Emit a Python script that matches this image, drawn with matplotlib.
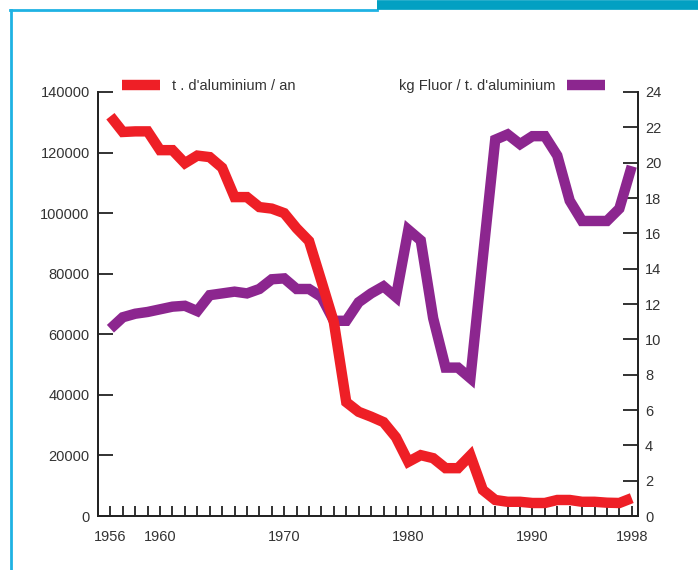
import matplotlib
matplotlib.use("Agg")
import matplotlib.pyplot as plt
from matplotlib.lines import Line2D

plt.rcParams['font.family'] = ['Liberation Sans', 'DejaVu Sans']

years = list(range(1956, 1999))

# t. d'aluminium / an  (left axis)
aluminium = [132000, 126800, 127000, 127000, 120800, 120800, 116500, 119000,
             118500, 115000, 105300, 105300, 102000, 101500, 100000, 95000,
             90800, 77500, 64000, 37600, 34400, 32800, 31000, 26000,
             17900, 20100, 19100, 15800, 15800, 20000, 8600, 5300,
             4700, 4700, 4300, 4300, 5300, 5300, 4700, 4700,
             4400, 4300, 5900]

# kg Fluor / t. d'aluminium  (right axis)
fluor = [10.6, 11.25, 11.45, 11.55, 11.7, 11.85, 11.9, 11.6,
         12.5, 12.6, 12.7, 12.6, 12.85, 13.4, 13.45, 12.85,
         12.85, 12.4, 11.05, 11.05, 12.1, 12.6, 13.0, 12.4,
         16.2, 15.6, 11.2, 8.4, 8.4, 7.8, 14.6, 21.3,
         21.6, 21.05, 21.5, 21.5, 20.4, 17.85, 16.7, 16.7,
         16.7, 17.4, 19.8]

year_labels = [1956, 1960, 1970, 1980, 1990, 1998]
left_ticks = list(range(0, 140001, 20000))
right_ticks = list(range(0, 25, 2))

red = '#ee1f26'
purple = '#8c268f'
text_col = '#333333'
axis_col = '#222222'
fs = 10.5

fig = plt.figure(figsize=(6.98, 5.70), dpi=100)
ax = fig.add_axes([0.1404, 0.0947, 0.7736, 0.7439])
ax2 = ax.twinx()

ax.set_zorder(ax2.get_zorder() + 1)
ax.patch.set_visible(False)

ax.plot(years, aluminium, color=red, lw=7.5, solid_joinstyle='miter',
        solid_capstyle='butt')
ax2.plot(years, fluor, color=purple, lw=7.5, solid_joinstyle='miter',
         solid_capstyle='butt')

ax.set_xlim(1955, 1998.5)
ax.set_ylim(0, 140000)
ax2.set_ylim(0, 24)

ax.set_xticks(years)
ax.set_xticklabels([str(y) if y in year_labels else '' for y in years])
ax.set_yticks(left_ticks)
ax.set_yticklabels([str(v) for v in left_ticks])
ax2.set_yticks(right_ticks)
ax2.set_yticklabels([str(v) for v in right_ticks])

for a in (ax, ax2):
    a.spines['top'].set_visible(False)
    for s in ('left', 'right', 'bottom'):
        a.spines[s].set_color(axis_col)
        a.spines[s].set_linewidth(1.3)

ax.tick_params(axis='x', direction='in', length=7, width=1.3, color=axis_col,
               pad=10, labelsize=fs, labelcolor=text_col)
ax.tick_params(axis='y', direction='in', length=11, width=1.3, color=axis_col,
               pad=6, labelsize=fs, labelcolor=text_col)
ax2.tick_params(axis='y', direction='in', length=11, width=1.3, color=axis_col,
                pad=5, labelsize=fs, labelcolor=text_col)

# legends
h1 = Line2D([], [], color=red, lw=7.5, solid_capstyle='butt')
h2 = Line2D([], [], color=purple, lw=7.5, solid_capstyle='butt')
leg1 = ax.legend([h1], ["t . d'aluminium / an"], loc='center left',
                 bbox_to_anchor=(122 / 698, 1 - 86 / 570),
                 bbox_transform=fig.transFigure, frameon=False,
                 borderpad=0, borderaxespad=0, handlelength=2.6,
                 handletextpad=0.8, fontsize=fs, labelcolor=text_col)
leg2 = ax.legend([h2], ["kg Fluor / t. d'aluminium"], loc='center right',
                 bbox_to_anchor=(605 / 698, 1 - 86 / 570),
                 bbox_transform=fig.transFigure, frameon=False,
                 borderpad=0, borderaxespad=0, handlelength=2.6,
                 handletextpad=0.8, fontsize=fs, labelcolor=text_col,
                 markerfirst=False)
ax.add_artist(leg1)

# cyan frame
fig.add_artist(Line2D([11 / 698, 11 / 698], [0, 1 - 10 / 570],
                      color='#1fb2e3', lw=2, transform=fig.transFigure))
fig.add_artist(Line2D([10 / 698, 377 / 698], [1 - 10 / 570, 1 - 10 / 570],
                      color='#1fb2e3', lw=2, transform=fig.transFigure))
fig.add_artist(Line2D([377 / 698, 1], [1 - 4.5 / 570, 1 - 4.5 / 570],
                      color='#02a0c2', lw=7, transform=fig.transFigure,
                      solid_capstyle='butt'))

fig.savefig("out.png", dpi=100)
